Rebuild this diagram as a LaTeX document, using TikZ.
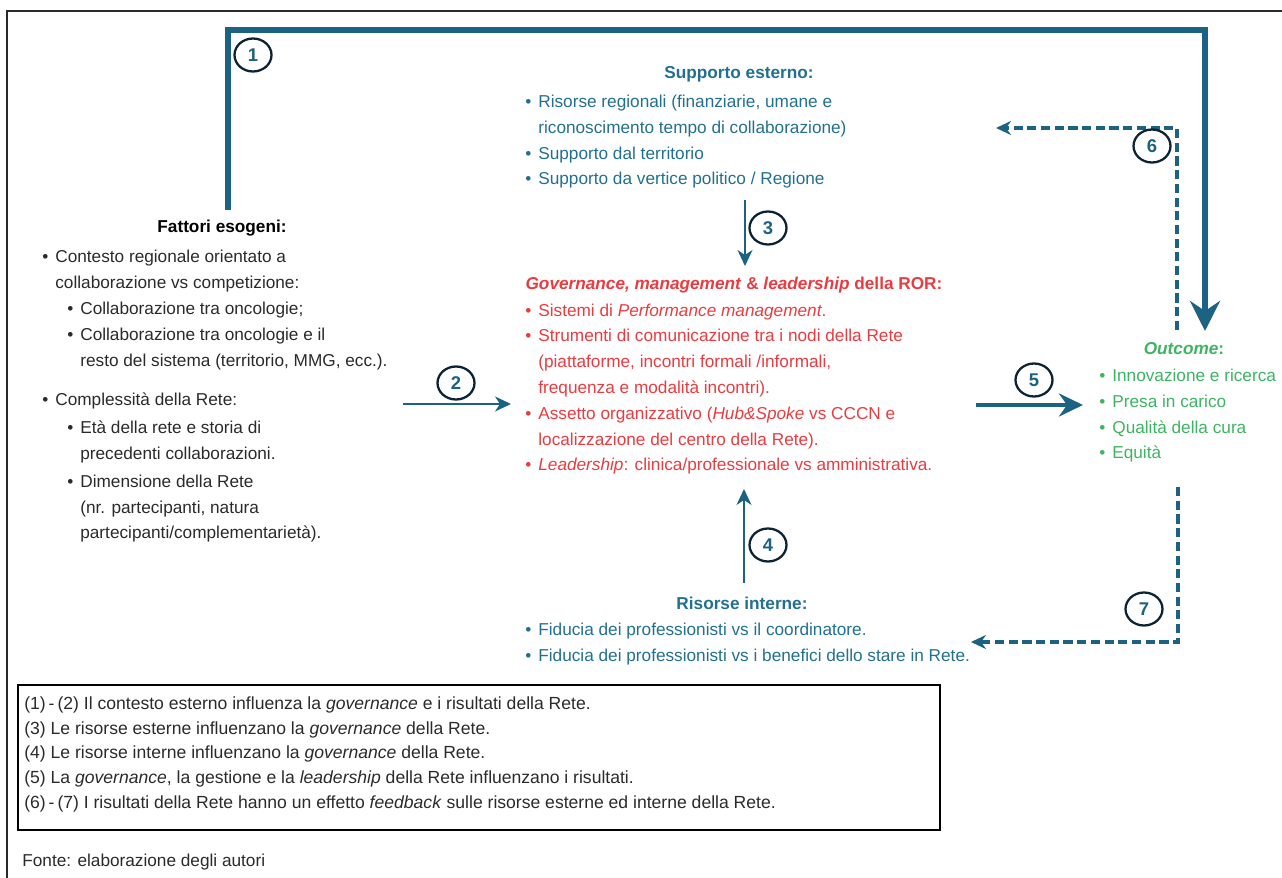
\documentclass[tikz,border=0pt]{standalone}
\usepackage{fontspec}
\setmainfont{Liberation Sans}
\usepackage{xcolor}
\usepackage{tikz}
\usetikzlibrary{arrows.meta, positioning, shapes.geometric}

\definecolor{rorteal}{HTML}{1C6282}
\definecolor{rortext}{HTML}{22708F}
\definecolor{rorred}{HTML}{EA3B40}
\definecolor{rorgreen}{HTML}{3DB462}
\definecolor{rornavy}{HTML}{0D2333}
\definecolor{rorgray}{HTML}{2A2A2A}
\newcommand{\bul}{\llap{\textbullet\hspace{4pt}}}
\newcommand{\subind}{\hspace*{0.5cm}}

\tikzset{
  every node/.style={font=\fontsize{9.8}{14.7}\selectfont, inner sep=0pt},
  txt/.style={anchor=base west, align=left},
  head/.style={anchor=base, font=\fontsize{9.8}{14.7}\selectfont\bfseries},
  num/.style={ellipse, draw=rornavy, line width=1.3pt, minimum width=0.74cm, minimum height=0.66cm, text=rorteal, font=\fontsize{10.5}{12}\selectfont\bfseries},
  arr/.style={rorteal, line width=1.2pt, -{Stealth[length=0.32cm, width=0.3cm, inset=0.1cm]}},
  feed/.style={rorteal, line width=1.8pt, dash pattern=on 5.2pt off 2.6pt, -{Stealth[length=0.3cm, width=0.28cm, inset=0.1cm]}}
}

\begin{document}
\begin{tikzpicture}[x=0.02cm, y=-0.02cm]
  \useasboundingbox (0,0) rectangle (1282,878);
  \draw [rorgray, line width=0.7pt] (1282,11) -- (7,11) -- (7,878);

  % left block (lists are placed by the baseline of their last line)
  \node [head, text=black] (fatt) at (222,233) {Fattori esogeni:};
  \node [txt, text=rorgray] (fattlist) at (55,539) {\bul Contesto regionale orientato a\\
    collaborazione vs competizione:\\
    \subind\bul Collaborazione tra oncologie;\\
    \subind\bul Collaborazione tra oncologie e il\\
    \subind resto del sistema (territorio, MMG, ecc.).\\[0.28cm]
    \bul Complessità della Rete:\\[0.04cm]
    \subind\bul Età della rete e storia di\\
    \subind precedenti collaborazioni.\\[0.04cm]
    \subind\bul Dimensione della Rete\\
    \subind (nr. partecipanti, natura\\
    \subind partecipanti/complementarietà).};

  % centre column
  \node [head, text=rortext] (suphead) at (739,79) {Supporto esterno:};
  \node [txt, text=rortext] (suplist) at (538,185) {\bul Risorse regionali (finanziarie, umane e\\
    riconoscimento tempo di collaborazione)\\
    \bul Supporto dal territorio\\
    \bul Supporto da vertice politico / Regione};
  \node [head, text=rorred] (govhead) at (734,290) {\textit{Governance, management} \& \textit{leadership} della ROR:};
  \node [txt, text=rorred] (govlist) at (538,471) {\bul Sistemi di \textit{Performance management}.\\
    \bul Strumenti di comunicazione tra i nodi della Rete\\
    (piattaforme, incontri formali /informali,\\
    frequenza e modalità incontri).\\
    \bul Assetto organizzativo (\textit{Hub\&Spoke} vs CCCN e\\
    localizzazione del centro della Rete).\\
    \bul \textit{Leadership}: clinica/professionale vs amministrativa.};
  \node [head, text=rortext] (inthead) at (742,609) {Risorse interne:};
  \node [txt, text=rortext] (intlist) at (538,661) {\bul Fiducia dei professionisti vs il coordinatore.\\
    \bul Fiducia dei professionisti vs i benefici dello stare in Rete.};

  % outcome
  \node [head, text=rorgreen] (outhead) at (1184,355) {\textit{Outcome}:};
  \node [txt, text=rorgreen] (outlist) at (1112,459) {\bul Innovazione e ricerca\\
    \bul Presa in carico\\
    \bul Qualità della cura\\
    \bul Equità};

  % connectors
  \coordinate (a1s) at (228,210);
  \coordinate (a1m) at (700,30);
  \coordinate (a1e) at (1205,331);
  \draw [rorteal, line width=3.4pt, -{Stealth[length=0.6cm, width=0.6cm, inset=0.2cm]}] (a1s) |- (a1m) -| (a1e);
  \coordinate (a2s) at (403,404);
  \coordinate (a2e) at (511,404);
  \draw [arr] (a2s) -- (a2e);
  \coordinate (a3s) at (745,200);
  \coordinate (a3e) at (745,266);
  \draw [arr] (a3s) -- (a3e);
  \coordinate (a4s) at (744,583);
  \coordinate (a4e) at (744,489);
  \draw [arr] (a4s) -- (a4e);
  \coordinate (a5s) at (976,405);
  \coordinate (a5e) at (1083,405);
  \draw [rorteal, line width=2.4pt, -{Stealth[length=0.48cm, width=0.46cm, inset=0.16cm]}] (a5s) -- (a5e);
  \coordinate (a6s) at (1177,330);
  \coordinate (a6e) at (996,128);
  \draw [feed] (a6s) |- (a6e);
  \coordinate (a7s) at (1178,487);
  \coordinate (a7e) at (971,642);
  \draw [feed] (a7s) |- (a7e);

  \node [num] (n1) at (253,55) {1};
  \node [num] (n2) at (456,383) {2};
  \node [num] (n3) at (768,228) {3};
  \node [num] (n4) at (768,545) {4};
  \node [num] (n5) at (1034,380) {5};
  \node [num] (n6) at (1152,146) {6};
  \node [num] (n7) at (1144,609) {7};

  % legend
  \node [draw=black, line width=1pt, anchor=north west, minimum width=18.44cm, minimum height=2.9cm] (legendbox) at (17,684) {};
  \node [txt, text=rorgray, font=\fontsize{10}{14}\selectfont] (legend) at (24,808) {(1)\,-\,(2) Il contesto esterno influenza la \textit{governance} e i risultati della Rete.\\
    (3) Le risorse esterne influenzano la \textit{governance} della Rete.\\
    (4) Le risorse interne influenzano la \textit{governance} della Rete.\\
    (5) La \textit{governance}, la gestione e la \textit{leadership} della Rete influenzano i risultati.\\
    (6)\,-\,(7) I risultati della Rete hanno un effetto \textit{feedback} sulle risorse esterne ed interne della Rete.};
  \node [txt, text=rorgray] (fonte) at (22,866) {Fonte: elaborazione degli autori};
\end{tikzpicture}
\end{document}
